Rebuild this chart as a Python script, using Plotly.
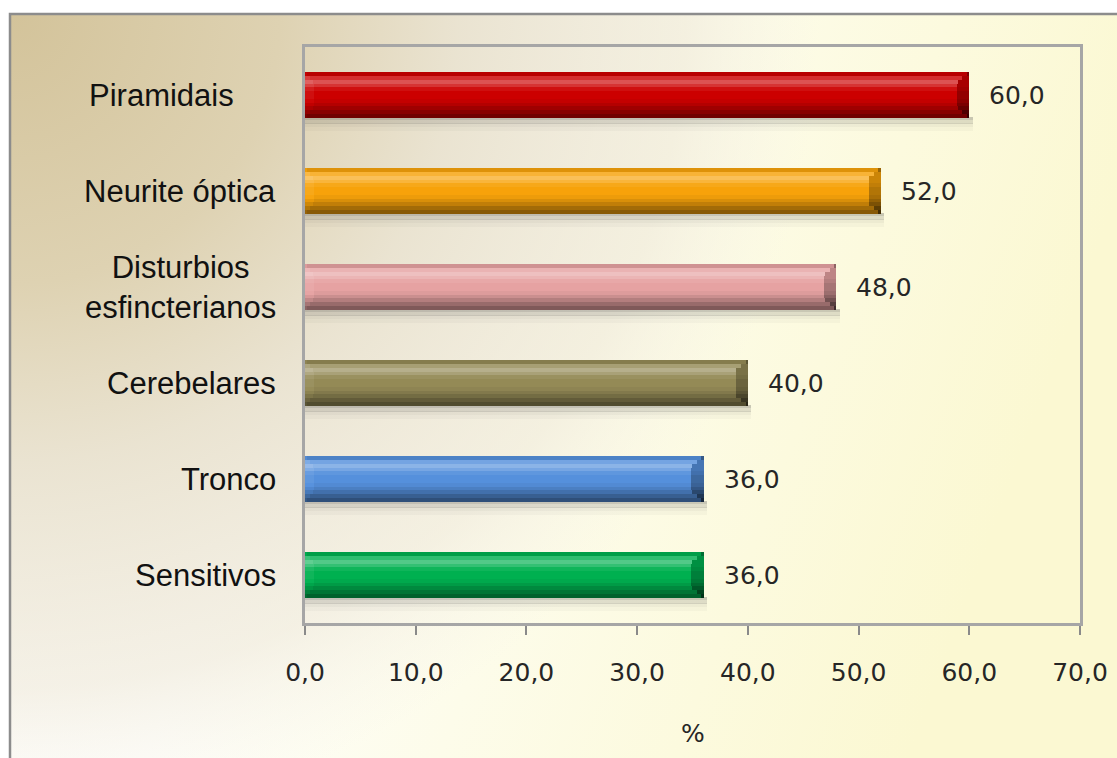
import base64
import plotly.graph_objects as go

# ---------------- data ----------------
categories = ["Piramidais", "Neurite óptica", "Disturbios<br>esfincterianos",
              "Cerebelares", "Tronco", "Sensitivos"]
values = [60.0, 52.0, 48.0, 40.0, 36.0, 36.0]
bar_colors = ["#cc0000", "#f7a20a", "#e6a2a2", "#948a56", "#5590dc", "#00b050"]
tick_values = [0, 10, 20, 30, 40, 50, 60, 70]
axis_title = "%"

# ---------------- layout geometry ----------------
FW, FH = 1117, 758
ML, MR, MT, MB = 305, 37, 47, 135
PW = FW - ML - MR
PH = FH - MT - MB


def px_x(px):
    return (px - ML) / PW


def px_y(py):
    return (FH - MB - py) / PH


def hex2rgb(h):
    h = h.lstrip("#")
    return [int(h[i:i + 2], 16) for i in (0, 2, 4)]


def shade(h, amt):
    r, g, b = hex2rgb(h)
    if amt >= 0:
        r, g, b = [c + (255 - c) * amt for c in (r, g, b)]
    else:
        r, g, b = [c * (1 + amt) for c in (r, g, b)]
    return "rgb(%d,%d,%d)" % (round(r), round(g), round(b))


BAR_W = 0.47
# lighten (+) / darken (-) profile from top edge to bottom edge of the cylinder
profile = [-0.10, 0.18, 0.32, 0.20, 0.06, 0.0, 0.0, -0.04, -0.12, -0.22, -0.34, -0.45]
NS = len(profile)
sw = BAR_W / NS
CAP = 1.1  # bevel width in axis units

fig = go.Figure()

# soft shadow under bars
for k, (off, op) in enumerate([(0.0, 0.28), (0.035, 0.16), (0.07, 0.08), (0.105, 0.04)]):
    fig.add_trace(go.Bar(
        y=categories, x=[v + 0.3 for v in values], orientation="h",
        width=0.04, offset=BAR_W / 2 - 0.01 + off,
        marker=dict(color="rgba(70,70,70,%.2f)" % op, line=dict(width=0)),
        hoverinfo="skip", showlegend=False))

for i, amt in enumerate(profile):
    t = (i + 0.5) / NS
    off = -BAR_W / 2 + i * sw
    cols = [shade(c, amt) for c in bar_colors]
    fig.add_trace(go.Bar(
        y=categories, x=values, orientation="h", width=sw * 1.05, offset=off,
        marker=dict(color=cols, line=dict(width=0)),
        hoverinfo="skip", showlegend=False))
    bev = CAP * min(1.0, min(t, 1 - t) / 0.22)
    # right end bevel (darker)
    fig.add_trace(go.Bar(
        y=categories, x=[bev] * len(values), base=[v - bev for v in values],
        orientation="h", width=sw * 1.05, offset=off,
        marker=dict(color=[shade(c, min(amt, 0.1) - 0.28) for c in bar_colors], line=dict(width=0)),
        hoverinfo="skip", showlegend=False))
    # left end bevel (slightly lighter)
    fig.add_trace(go.Bar(
        y=categories, x=[bev * 0.7] * len(values), base=[0] * len(values),
        orientation="h", width=sw * 1.05, offset=off,
        marker=dict(color=[shade(c, amt + 0.06) for c in bar_colors], line=dict(width=0)),
        hoverinfo="skip", showlegend=False))

# value labels
annotations = []
for c, v in zip(categories, values):
    annotations.append(dict(
        x=v, y=c, xref="x", yref="y", text=("%.1f" % v).replace(".", ","),
        showarrow=False, xanchor="left", yanchor="middle", xshift=18,
        font=dict(family="DejaVu Sans", size=25, color="#262626")))

# category labels (anchor pixel positions)
label_anchor = [(236, "right"), (278, "right"), (180, "center"),
                (278, "right"), (278, "right"), (278, "right")]
for c, (ax, anc) in zip(categories, label_anchor):
    annotations.append(dict(
        x=px_x(ax), y=c, xref="paper", yref="y", text=c, showarrow=False,
        xanchor=anc, yanchor="middle", align="center",
        font=dict(family="Liberation Sans, Arial", size=31, color="#111111")))

annotations.append(dict(
    x=0.5, y=px_y(733), xref="paper", yref="paper", text=axis_title,
    showarrow=False, xanchor="center", yanchor="middle",
    font=dict(family="DejaVu Sans", size=25, color="#262626")))

# background gradient image (whole chart area)
BX0, BY0 = 10, 14
BW, BH = FW - BX0, FH - BY0
svg = f'''<svg xmlns="http://www.w3.org/2000/svg" width="{BW}" height="{BH}" viewBox="0 0 {BW} {BH}" preserveAspectRatio="none">
<defs>
<linearGradient id="h" x1="0" y1="0" x2="1" y2="0.25">
<stop offset="0" stop-color="#ffffff"/>
<stop offset="0.35" stop-color="#fefefb"/>
<stop offset="0.6" stop-color="#fdfcea"/>
<stop offset="1" stop-color="#fbf8d2"/>
</linearGradient>
<radialGradient id="r" gradientUnits="userSpaceOnUse" cx="0" cy="0" r="900">
<stop offset="0" stop-color="#d3c39a" stop-opacity="1"/>
<stop offset="0.3" stop-color="#ded2b2" stop-opacity="1"/>
<stop offset="0.5" stop-color="#e9e2cf" stop-opacity="0.95"/>
<stop offset="0.75" stop-color="#eee8d8" stop-opacity="0.6"/>
<stop offset="0.9" stop-color="#f5f1e6" stop-opacity="0"/>
</radialGradient>
</defs>
<rect x="0" y="0" width="{BW}" height="{BH}" fill="url(#h)"/>
<rect x="0" y="0" width="{BW}" height="{BH}" fill="url(#r)"/>
</svg>'''
src = "data:image/svg+xml;base64," + base64.b64encode(svg.encode()).decode()

fig.update_layout(
    width=FW, height=FH,
    margin=dict(l=ML, r=MR, t=MT, b=MB, autoexpand=False),
    paper_bgcolor="white", plot_bgcolor="rgba(0,0,0,0)",
    barmode="overlay", bargap=0, showlegend=False,
    separators=", ",
    annotations=annotations,
    images=[dict(source=src, xref="paper", yref="paper",
                 x=px_x(BX0), y=px_y(BY0), sizex=BW / PW, sizey=BH / PH,
                 xanchor="left", yanchor="top", sizing="stretch", layer="below")],
    shapes=[dict(type="rect", xref="paper", yref="paper",
                 x0=px_x(BX0), x1=px_x(FW + 10), y0=px_y(BY0), y1=px_y(FH + 10),
                 line=dict(color="#8c8c8c", width=2.5), fillcolor="rgba(0,0,0,0)",
                 layer="above")],
    xaxis=dict(range=[0, 70], tickvals=tick_values, tickformat=".1f",
               showgrid=False, zeroline=False,
               showline=True, linecolor="#a6a6a6", linewidth=3, mirror=True,
               ticks="outside", ticklen=9, tickwidth=1.5, tickcolor="#8a8a8a",
               ticklabelstandoff=16,
               tickfont=dict(family="DejaVu Sans", size=25, color="#262626")),
    yaxis=dict(autorange="reversed", showticklabels=False, ticks="",
               showgrid=False, zeroline=False,
               showline=True, linecolor="#a6a6a6", linewidth=3, mirror=True),
)

fig.write_html("out.html")
